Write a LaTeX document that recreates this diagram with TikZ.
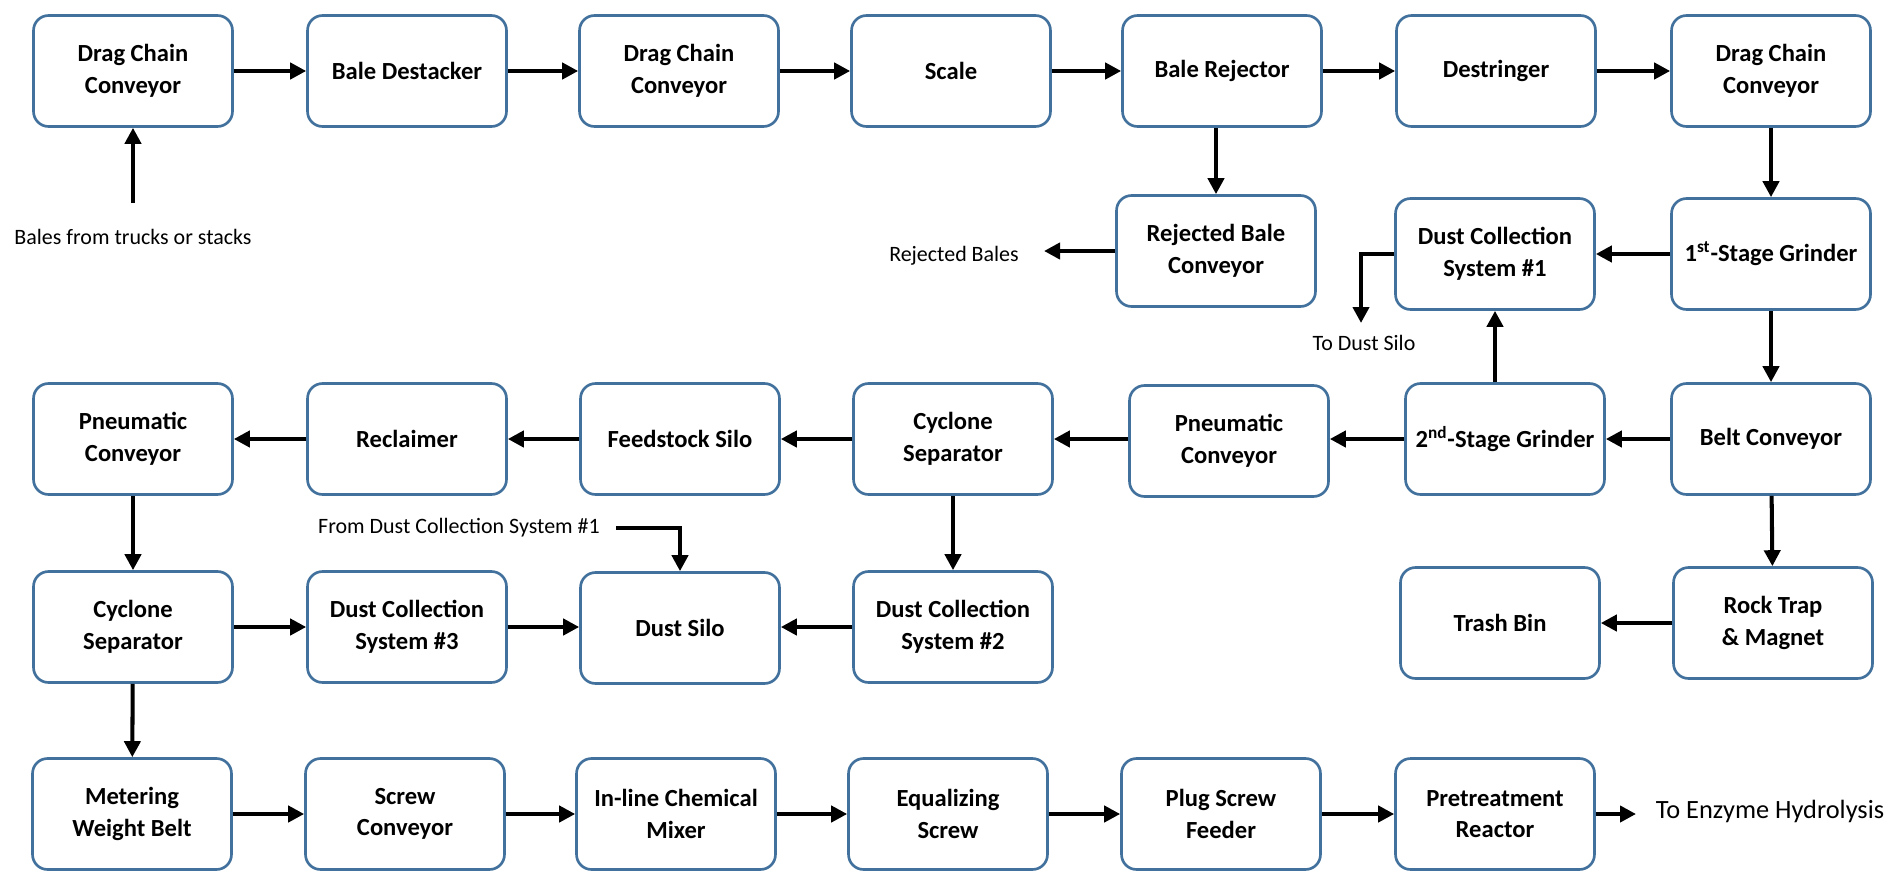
\documentclass[tikz,border=0pt]{standalone}
\usepackage{fontspec}
\setmainfont{Carlito}
\usetikzlibrary{arrows.meta}
\definecolor{boxblue}{RGB}{65,113,156}

\begin{document}
\begin{tikzpicture}[
  x=0.02cm, y=-0.02cm, % 1 Einheit = 1 Pixel
  unit/.style={draw=boxblue, line width=1.5pt, rounded corners=0.3cm, fill=white,
    minimum width=3.98cm, minimum height=2.22cm, align=center,
    font=\bfseries\fontsize{14}{18}\selectfont},
  lbl/.style={font=\fontsize{12.5}{15}\selectfont},
  flow/.style={line width=2.3pt, -{Triangle[length=0.32cm,width=0.32cm]}}
  ]
\useasboundingbox (0,0) rectangle (1893,872);
% Zeile 1
\node[unit] (dcc1) at (133,71) {Drag Chain\\Conveyor};
\node[unit] (destack) at (407,71) {Bale Destacker};
\node[unit] (dcc2) at (679,71) {Drag Chain\\Conveyor};
\node[unit] (scale) at (951,71) {Scale};
\node[unit] (rejector) at (1222,71) {Bale Rejector};
\node[unit] (destring) at (1496,71) {Destringer};
\node[unit] (dcc3) at (1771,71) {Drag Chain\\Conveyor};
% Zeile 2
\node[unit] (rejbale) at (1216,251) {Rejected Bale\\Conveyor};
\node[unit] (dcs1) at (1495,254) {Dust Collection\\System \#1};
\node[unit] (grinder1) at (1771,254) {1\textsuperscript{st}-Stage Grinder};
% Zeile 3
\node[unit] (pneu1) at (133,439) {Pneumatic\\Conveyor};
\node[unit] (reclaim) at (407,439) {Reclaimer};
\node[unit] (silo) at (680,439) {Feedstock Silo};
\node[unit] (cyclone2) at (953,439) {Cyclone\\Separator};
\node[unit] (pneu2) at (1229,441) {Pneumatic\\Conveyor};
\node[unit] (grinder2) at (1505,439) {2\textsuperscript{nd}-Stage Grinder};
\node[unit] (belt) at (1771,439) {Belt Conveyor};
% Zeile 4
\node[unit] (cyclone1) at (133,627) {Cyclone\\Separator};
\node[unit] (dcs3) at (407,627) {Dust Collection\\System \#3};
\node[unit] (dust) at (680,628) {Dust Silo};
\node[unit] (dcs2) at (953,627) {Dust Collection\\System \#2};
\node[unit] (trash) at (1500,623) {Trash Bin};
\node[unit] (rock) at (1773,623) {Rock Trap\\\& Magnet};
% Zeile 5
\node[unit] (meter) at (132,814) {Metering\\Weight Belt};
\node[unit] (screw) at (405,814) {Screw\\Conveyor};
\node[unit] (mixer) at (676,814) {In-line Chemical\\Mixer};
\node[unit] (equal) at (948,814) {Equalizing\\Screw};
\node[unit] (plug) at (1221,814) {Plug Screw\\Feeder};
\node[unit] (pretreat) at (1495,814) {Pretreatment\\Reactor};
% Texte
\node[lbl] (bales) at (133,237) {Bales from trucks or stacks};
\node[lbl] (rejout) at (954,256) {Rejected Bales};
\node[lbl] (todust) at (1364,343) {To Dust Silo};
\node[lbl] (fromdcs) at (459,528) {From Dust Collection System \#1};
\node[lbl,font=\fontsize{15}{18}\selectfont] (enzyme) at (1770,811) {To Enzyme Hydrolysis};
\coordinate (balesin) at (133,203);
\coordinate (rejend) at (1044,251);
\coordinate (dustout) at (1361,323);
\coordinate (dustin) at (616,528);
\coordinate (enzend) at (1636,814);
% Pfeile
\draw[flow] (balesin) -- (dcc1);
\draw[flow] (dcc1) -- (destack);
\draw[flow] (destack) -- (dcc2);
\draw[flow] (dcc2) -- (scale);
\draw[flow] (scale) -- (rejector);
\draw[flow] (rejector) -- (destring);
\draw[flow] (destring) -- (dcc3);
\draw[flow] (rejector.south -| rejbale) -- (rejbale);
\draw[flow] (rejbale) -- (rejend);
\draw[flow] (dcc3) -- (grinder1);
\draw[flow] (grinder1) -- (dcs1);
\draw[flow] (dcs1.west) -| (dustout);
\draw[flow] (grinder1) -- (belt);
\draw[flow] (belt) -- (grinder2);
\draw[flow] (grinder2.north -| dcs1) -- (dcs1);
\draw[flow] (grinder2.west) -- (pneu2.east |- grinder2.west);
\draw[flow] (pneu2.west |- cyclone2.east) -- (cyclone2.east);
\draw[flow] (cyclone2) -- (silo);
\draw[flow] (silo) -- (reclaim);
\draw[flow] (reclaim) -- (pneu1);
\draw[flow] (cyclone2) -- (dcs2);
\draw[flow] (belt) -- (rock);
\draw[flow] (rock) -- (trash);
\draw[flow] (pneu1) -- (cyclone1);
\draw[flow] (cyclone1) -- (dcs3);
\draw[flow] (dcs3.east) -- (dust.west |- dcs3.east);
\draw[flow] (dcs2.west) -- (dust.east |- dcs2.west);
\draw[flow] (dustin) -| (dust);
\draw[flow] (cyclone1) -- (meter);
\draw[flow] (meter) -- (screw);
\draw[flow] (screw) -- (mixer);
\draw[flow] (mixer) -- (equal);
\draw[flow] (equal) -- (plug);
\draw[flow] (plug) -- (pretreat);
\draw[flow] (pretreat) -- (enzend);
\end{tikzpicture}
\end{document}
